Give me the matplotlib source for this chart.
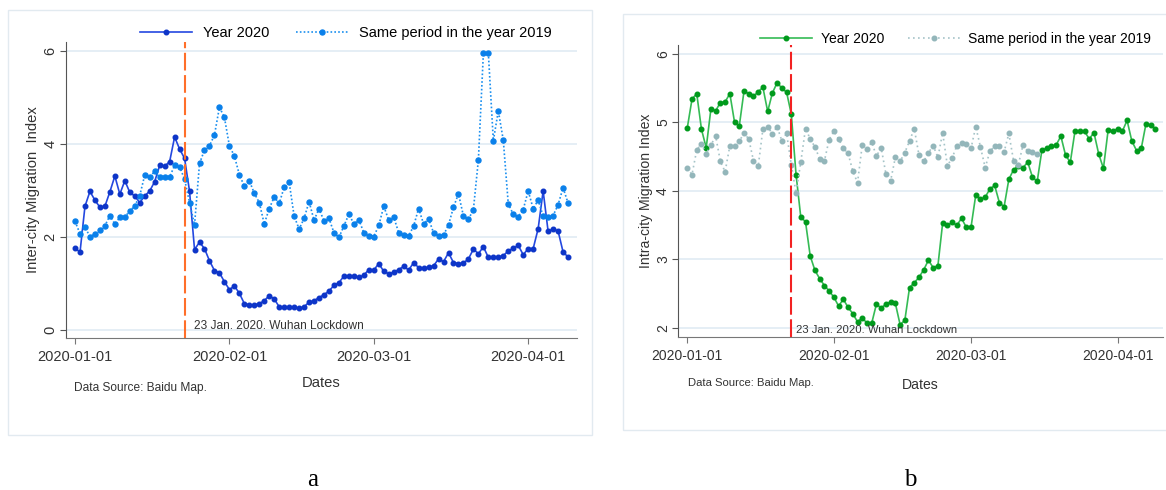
import numpy as np
import pandas as pd
import matplotlib
matplotlib.use("Agg")
import matplotlib.pyplot as plt
from matplotlib.patches import Rectangle

plt.rcParams['font.family'] = ['Liberation Sans', 'DejaVu Sans']

# daily values, 2020-01-01 .. 2020-04-09
dates = pd.date_range('2020-01-01', periods=100, freq='D')
lockdown = pd.Timestamp('2020-01-23')

inter_2020 = [1.77, 1.67, 2.66, 2.98, 2.79, 2.64, 2.66, 2.97, 3.31, 2.92,
              3.21, 2.96, 2.88, 2.74, 2.88, 2.99, 3.19, 3.54, 3.52, 3.62,
              4.15, 3.89, 3.69, 2.98, 1.73, 1.89, 1.75, 1.49, 1.28, 1.23,
              1.04, 0.87, 0.95, 0.79, 0.57, 0.54, 0.54, 0.57, 0.63, 0.74,
              0.67, 0.50, 0.49, 0.49, 0.49, 0.47, 0.50, 0.60, 0.63, 0.70,
              0.76, 0.84, 0.96, 1.02, 1.16, 1.16, 1.16, 1.13, 1.18, 1.30,
              1.29, 1.43, 1.26, 1.21, 1.24, 1.30, 1.37, 1.29, 1.45, 1.34,
              1.33, 1.35, 1.38, 1.53, 1.47, 1.66, 1.45, 1.43, 1.44, 1.53,
              1.74, 1.64, 1.79, 1.56, 1.57, 1.57, 1.60, 1.70, 1.76, 1.82,
              1.62, 1.75, 1.75, 2.18, 2.99, 2.12, 2.17, 2.13, 1.68, 1.57]

inter_2019 = [2.34, 2.07, 2.21, 2.01, 2.06, 2.14, 2.24, 2.46, 2.28, 2.42,
              2.43, 2.56, 2.67, 2.89, 3.33, 3.29, 3.41, 3.28, 3.28, 3.29,
              3.54, 3.51, 3.24, 2.74, 2.26, 3.58, 3.87, 3.96, 4.19, 4.79,
              4.57, 3.96, 3.74, 3.34, 3.09, 3.21, 2.94, 2.74, 2.28, 2.61,
              2.86, 2.72, 3.07, 3.18, 2.45, 2.17, 2.40, 2.76, 2.36, 2.61,
              2.34, 2.40, 2.09, 1.99, 2.24, 2.49, 2.28, 2.37, 2.09, 2.02,
              2.01, 2.25, 2.66, 2.36, 2.43, 2.09, 2.04, 2.02, 2.24, 2.61,
              2.28, 2.39, 2.09, 2.02, 2.04, 2.26, 2.64, 2.93, 2.45, 2.38,
              2.59, 3.66, 5.95, 5.95, 4.07, 4.71, 4.08, 2.71, 2.49, 2.44,
              2.59, 2.99, 2.61, 2.79, 2.45, 2.43, 2.46, 2.69, 3.06, 2.73]

intra_2020 = [4.92, 5.34, 5.42, 4.90, 4.63, 5.20, 5.17, 5.29, 5.30, 5.42,
              5.00, 4.95, 5.46, 5.42, 5.38, 5.45, 5.51, 5.16, 5.43, 5.58,
              5.50, 5.44, 5.12, 4.24, 3.62, 3.55, 3.05, 2.84, 2.72, 2.62,
              2.54, 2.45, 2.32, 2.42, 2.30, 2.21, 2.09, 2.15, 2.07, 2.07,
              2.35, 2.29, 2.35, 2.38, 2.36, 2.05, 2.11, 2.59, 2.66, 2.74,
              2.85, 2.99, 2.88, 2.91, 3.53, 3.50, 3.54, 3.50, 3.60, 3.47,
              3.47, 3.94, 3.88, 3.91, 4.03, 4.08, 3.83, 3.77, 4.17, 4.31,
              4.36, 4.34, 4.42, 4.20, 4.14, 4.60, 4.62, 4.65, 4.67, 4.80,
              4.52, 4.42, 4.88, 4.87, 4.87, 4.76, 4.85, 4.54, 4.33, 4.89,
              4.87, 4.91, 4.87, 5.03, 4.73, 4.59, 4.62, 4.98, 4.96, 4.91]

# 2019 intra-city series stops after 75 days
intra_2019 = [4.33, 4.24, 4.60, 4.69, 4.54, 4.67, 4.80, 4.43, 4.28, 4.66,
              4.66, 4.73, 4.84, 4.76, 4.44, 4.36, 4.91, 4.94, 4.83, 4.94,
              4.73, 4.84, 4.38, 3.97, 4.42, 4.91, 4.76, 4.64, 4.47, 4.44,
              4.75, 4.87, 4.76, 4.62, 4.55, 4.29, 4.12, 4.67, 4.61, 4.71,
              4.51, 4.63, 4.25, 4.15, 4.49, 4.43, 4.56, 4.73, 4.91, 4.52,
              4.43, 4.56, 4.66, 4.49, 4.85, 4.37, 4.48, 4.66, 4.70, 4.68,
              4.62, 4.94, 4.64, 4.34, 4.58, 4.65, 4.65, 4.57, 4.84, 4.44,
              4.38, 4.67, 4.58, 4.57, 4.54]

tick_dates = pd.to_datetime(['2020-01-01', '2020-02-01', '2020-03-01', '2020-04-01'])
tick_labels = ['2020-01-01', '2020-02-01', '2020-03-01', '2020-04-01']
legend_labels = ['Year 2020', 'Same period in the year 2019']

W, H = 1166, 490
fig = plt.figure(figsize=(W / 100, H / 100), dpi=100)
fig.patch.set_facecolor('white')


def px_box(x0, y0, x1, y1):
    # pixel box (top-left origin) -> figure fraction rect
    return [x0 / W, 1 - y1 / H, (x1 - x0) / W, (y1 - y0) / H]


# light frames around each panel
for (x0, y0, x1, y1) in [(8, 10, 592, 435), (623, 14, 1172, 430)]:
    r = px_box(x0, y0, x1, y1)
    fig.patches.append(Rectangle((r[0], r[1]), r[2], r[3], transform=fig.transFigure,
                                 fill=False, edgecolor='#e2eaf0', lw=1.0))


def style_axes(ax, fs):
    for s in ['top', 'right']:
        ax.spines[s].set_visible(False)
    ax.spines['left'].set_color('#555555')
    ax.spines['bottom'].set_color('#777777')
    ax.grid(axis='y', color='#e3edf5', lw=1.3)
    ax.set_axisbelow(True)
    ax.set_xticks(tick_dates)
    ax.set_xticklabels(tick_labels)
    ax.tick_params(axis='x', length=4.5, color='#777777', labelsize=fs, labelcolor='#333333', pad=4)
    ax.tick_params(axis='y', length=4.5, color='#555555', labelsize=fs, labelcolor='#333333',
                   pad=1.5, labelrotation=90)
    for t in ax.get_yticklabels():
        t.set_va('center')


# ---- panel a: inter-city
ax1 = fig.add_axes(px_box(65.7, 42, 577, 338))
ax1.plot(dates, inter_2020, color='#2448e0', lw=1.2, marker='o', ms=3.3,
         mfc='#0d35c8', mec='#0d35c8', label=legend_labels[0])
ax1.plot(dates, inter_2019, color='#1a8fef', lw=1.2, ls=(0, (1, 1.3)), marker='o', ms=3.6,
         mfc='#0a80ea', mec='#0a80ea', label=legend_labels[1])
ax1.axvline(lockdown, color='#ff6f2a', lw=1.5, dashes=(8.5, 2.2))
ax1.set_xlim(dates[0] - pd.Timedelta(days=1.87), dates[0] + pd.Timedelta(days=100.8))
ax1.set_ylim(-0.17, 6.19)
ax1.set_yticks([0, 2, 4, 6])
style_axes(ax1, 10.5)
ax1.annotate('23 Jan. 2020. Wuhan Lockdown', xy=(lockdown, 0), xytext=(6.8, 3.1),
             textcoords='offset points', va='center', ha='left', fontsize=8.6, color='#333333')
ax1.set_xlabel('Dates', fontsize=10.6, color='#333333')
ax1.xaxis.set_label_coords(0.5, -0.128)
ax1.set_ylabel('Inter-city Migration  Index', fontsize=10.6, color='#333333')
ax1.yaxis.set_label_coords(-0.051, 0.5)
ax1.legend(ncol=2, frameon=False, loc='center', bbox_to_anchor=(346 / W, 1 - 33 / H),
           bbox_transform=fig.transFigure, fontsize=10.5, handlelength=3.6,
           handletextpad=0.75, columnspacing=1.8)
fig.text(74 / W, 1 - 387.7 / H, 'Data Source: Baidu Map.', fontsize=8.6, color='#333333', va='center')

# ---- panel b: intra-city
ax2 = fig.add_axes(px_box(678.3, 45, 1163, 336.7))
ax2.plot(dates, intra_2020, color='#35bb55', lw=1.2, marker='o', ms=3.3,
         mfc='#009a1c', mec='#009a1c', label=legend_labels[0])
ax2.plot(dates[:len(intra_2019)], intra_2019, color='#a5c4c8', lw=1.2, ls=(0, (1, 2)),
         marker='o', ms=3.3, mfc='#93b6ba', mec='#93b6ba', label=legend_labels[1])
ax2.axvline(lockdown, color='#f22222', lw=1.5, dashes=(8.5, 2.2))
ax2.set_xlim(dates[0] - pd.Timedelta(days=1.9), dates[0] + pd.Timedelta(days=100.6))
ax2.set_ylim(1.873, 6.13)
ax2.set_yticks([2, 3, 4, 5, 6])
style_axes(ax2, 10)
ax2.annotate('23 Jan. 2020. Wuhan Lockdown', xy=(lockdown, 2), xytext=(3.2, -1.8),
             textcoords='offset points', va='center', ha='left', fontsize=8.1, color='#333333')
ax2.set_xlabel('Dates', fontsize=10.1, color='#333333')
ax2.xaxis.set_label_coords(0.5, -0.1416)
ax2.set_ylabel('Intra-city Migration Index', fontsize=10.1, color='#333333')
ax2.yaxis.set_label_coords(-0.052, 0.5)
ax2.legend(ncol=2, frameon=False, loc='center', bbox_to_anchor=(955.5 / W, 1 - 39 / H),
           bbox_transform=fig.transFigure, fontsize=10, handlelength=3.75,
           handletextpad=0.6, columnspacing=1.7)
fig.text(688 / W, 1 - 382.7 / H, 'Data Source: Baidu Map.', fontsize=8.1, color='#333333', va='center')

# panel letters
fig.text(313 / W, 1 - 480 / H, 'a', fontsize=18, family='Liberation Serif', ha='center', va='center')
fig.text(910 / W, 1 - 480 / H, 'b', fontsize=18, family='Liberation Serif', ha='center', va='center')

fig.savefig('out.png', dpi=100, facecolor='white')
